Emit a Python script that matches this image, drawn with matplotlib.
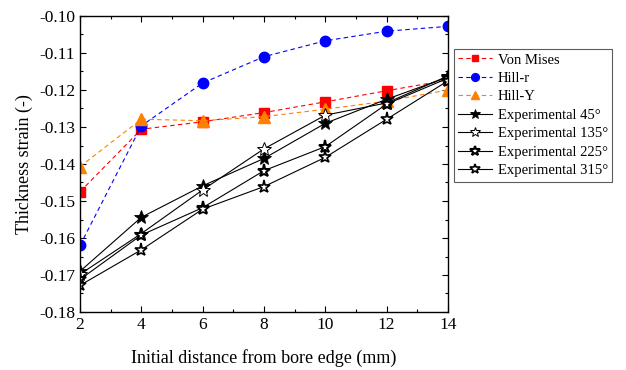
import matplotlib
matplotlib.use("Agg")
import matplotlib.pyplot as plt
from matplotlib.ticker import MultipleLocator

plt.rcParams['font.family'] = ['Liberation Serif', 'DejaVu Serif']
plt.rcParams['mathtext.fontset'] = 'stix'

x = [2, 4, 6, 8, 10, 12, 14]
von_mises = [-0.1475, -0.1306, -0.1286, -0.1261, -0.1232, -0.1202, -0.1173]
hill_r = [-0.1620, -0.1297, -0.1181, -0.1110, -0.1067, -0.1041, -0.1028]
hill_y = [-0.1407, -0.1279, -0.1283, -0.1272, -0.1252, -0.1230, -0.1200]
exp45 = [-0.1690, -0.1544, -0.1459, -0.1385, -0.1290, -0.1225, -0.1165]
exp135 = [-0.1698, -0.1588, -0.1470, -0.1359, -0.1268, -0.1235, -0.1162]
exp225 = [-0.1712, -0.1592, -0.1518, -0.1418, -0.1353, -0.1238, -0.1168]
exp315 = [-0.1728, -0.1632, -0.1522, -0.1461, -0.1382, -0.1279, -0.1175]

fig = plt.figure(figsize=(6.26, 3.70), dpi=100)
ax = fig.add_axes([80/626, 1-312/370, 368/626, 296/370])

ax.plot(x, von_mises, ls=(0, (4, 3)), lw=0.8, color='#ff0000', marker='s', ms=6.5,
        label='Von Mises')
ax.plot(x, hill_r, ls=(0, (4, 3)), lw=0.8, color='#0000ff', marker='o', ms=7.5,
        label='Hill-r')
ax.plot(x, hill_y, ls=(0, (4, 3)), lw=0.8, color='#ff8000', marker='^', ms=8,
        label='Hill-Y')
ax.plot(x, exp45, ls='-', lw=0.8, color='black', marker='*', ms=10, mfc='black',
        mec='black', mew=0.6, label='Experimental 45°')
ax.plot(x, exp135, ls='-', lw=0.8, color='black', marker='*', ms=10, mfc='white',
        mec='black', mew=0.7, label='Experimental 135°')
ax.plot(x, exp225, ls='-', lw=0.8, color='black', marker='*', ms=9.5, mfc='white',
        mec='black', mew=1.5, label='Experimental 225°')
ax.plot(x, exp315, ls='-', lw=0.8, color='black', marker='*', ms=9.5, mfc='white',
        mec='black', mew=1.2, label='Experimental 315°')

ax.set_xlim(2, 14)
ax.set_ylim(-0.18, -0.10)
ax.xaxis.set_major_locator(MultipleLocator(2))
ax.xaxis.set_minor_locator(MultipleLocator(1))
ax.yaxis.set_major_locator(MultipleLocator(0.01))
ax.yaxis.set_minor_locator(MultipleLocator(0.005))
ax.yaxis.set_major_formatter(matplotlib.ticker.FormatStrFormatter('%.2f'))
ax.tick_params(which='both', direction='in', top=True, right=True, labelsize=12.5,
               width=0.8)
ax.tick_params(which='major', length=4)
ax.tick_params(which='minor', length=2.5)
for s in ax.spines.values():
    s.set_linewidth(1.0)

ax.set_xlabel('Initial distance from bore edge (mm)', fontsize=13, labelpad=12)
ax.set_ylabel('Thickness strain (-)', fontsize=13, labelpad=4)

leg = ax.legend(loc='upper left', bbox_to_anchor=(454/626, 1-49/370),
                bbox_transform=fig.transFigure, fontsize=10.5, frameon=True,
                fancybox=False, edgecolor='#333333', handlelength=2.3,
                handletextpad=0.4, borderpad=0.3, labelspacing=0.36,
                borderaxespad=0, markerscale=0.75)
leg.get_frame().set_linewidth(0.8)

fig.savefig('out.png', dpi=100)
